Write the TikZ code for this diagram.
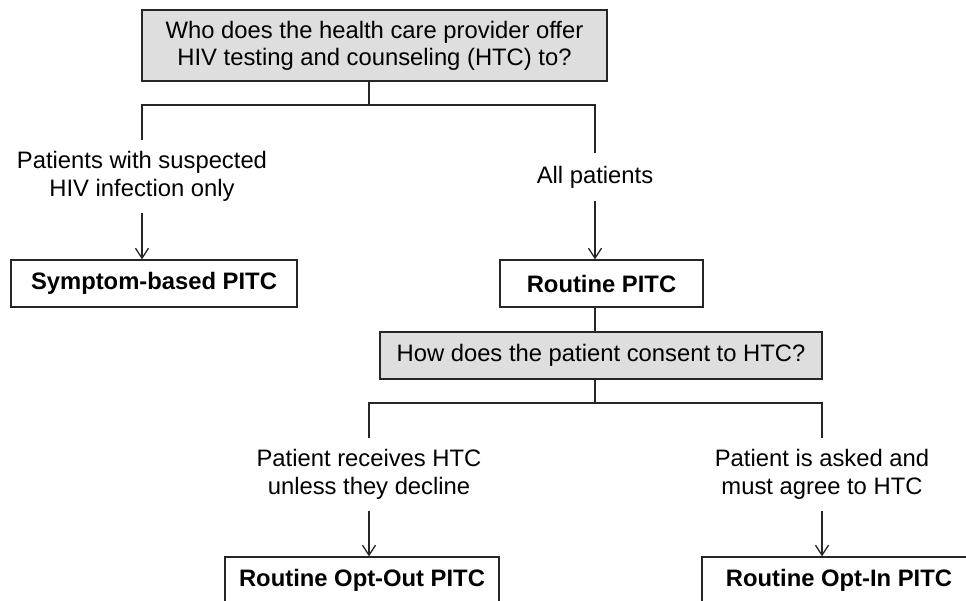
\documentclass[tikz,border=0pt]{standalone}
\usepackage{fontspec}
\setmainfont{Liberation Sans}
\usetikzlibrary{arrows.meta}

\tikzset{
  box/.style={draw=black!85, line width=1.2pt, minimum height=47pt, inner sep=0pt,
    font=\fontsize{23.8}{27}\selectfont\bfseries},
  question/.style={box, fill=black!13, font=\fontsize{23.8}{27}\selectfont, align=center},
  choice/.style={align=center, inner sep=0pt, font=\fontsize{23.8}{27.5}\selectfont},
  link/.style={draw=black!85, line width=1.2pt},
  arr/.style={link, -{Straight Barb[length=10pt,width=13pt,line width=1.3pt]}}
}

\begin{document}
\begin{tikzpicture}[x=1pt, y=-1pt]
			%%%%% START %%%%%
			\useasboundingbox (0,0) rectangle (966,601);
			\clip (0,0) rectangle (966,601);
			
			% questions
			\node[question, minimum width=465pt, minimum height=71pt] (who) at (374.5,45.5)
				{Who does the health care provider offer\\HIV testing and counseling (HTC) to?};
			\node[question, minimum width=442pt] (consent) at (601,355.5) {How does the patient consent to HTC?};
			
			% answers
			\node[choice, minimum height=73pt] (suspect) at (142,176.5) {Patients with suspected\\HIV infection only};
			\node[choice, minimum height=48pt] (allpat) at (595,177) {All patients};
			\node[choice, minimum height=73pt] (optoutlab) at (369,474.5) {Patient receives HTC\\unless they decline};
			\node[choice, minimum height=73pt] (optinlab) at (822,474.5) {Patient is asked and\\must agree to HTC};
			
			% outcomes
			\node[box, minimum width=286pt] (symptom) at (154,283.5) {Symptom-based PITC};
			\node[box, minimum width=203pt] (routine) at (601.5,283.5) {Routine PITC};
			\node[box, minimum width=274pt] (optout) at (362,580.5) {Routine Opt-Out PITC};
			\node[box, minimum width=274pt] (optin) at (839,580.5) {Routine Opt-In PITC};
			
			% first split
			\coordinate (fork1) at (369,105);
			\draw[link] (who.south -| fork1) -- (fork1);
			\draw[link] (suspect.north) |- (fork1) -| (allpat.north);
			\draw[arr] (suspect.south) -- (suspect.south |- symptom.north);
			\draw[arr] (allpat.south) -- (allpat.south |- routine.north);
			
			% second split
			\draw[link] (routine.south -| allpat) -- (consent.north -| allpat);
			\coordinate (fork2) at (595,403);
			\draw[link] (consent.south -| fork2) -- (fork2);
			\draw[link] (optoutlab.north) |- (fork2) -| (optinlab.north);
			\draw[arr] (optoutlab.south) -- (optoutlab.south |- optout.north);
			\draw[arr] (optinlab.south) -- (optinlab.south |- optin.north);
			
			%%%%% END %%%%%
\end{tikzpicture}
\end{document}
